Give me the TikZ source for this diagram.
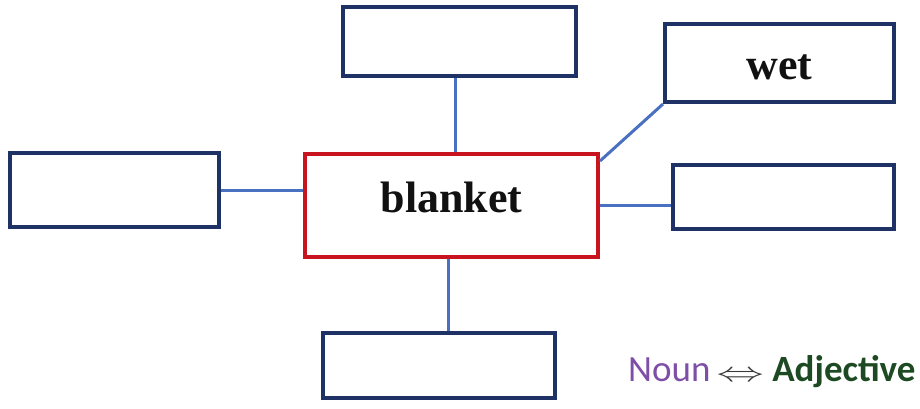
\documentclass[tikz,border=0pt]{standalone}
\usepackage{fontspec,xcolor,tikz}
\setmainfont{Liberation Serif}
\newfontfamily\calib{Carlito}
\definecolor{navy}{HTML}{1F3266}
\definecolor{link}{HTML}{4A70C2}
\definecolor{frame}{HTML}{C8141E}
\definecolor{ink}{HTML}{111111}
\definecolor{nounc}{HTML}{7E4FA6}
\definecolor{adjc}{HTML}{1D4A22}
\definecolor{arrc}{HTML}{3A3A3A}
\newcommand{\wordfont}{\fontsize{44}{48}\selectfont\bfseries}
\newcommand{\keyfont}{\fontsize{37}{40}\selectfont\calib}
\begin{document}
\begin{tikzpicture}[x=1pt,y=-1pt,
  wordbox/.style={draw=navy,line width=4pt,inner sep=0,fill=white,text=ink,font=\wordfont},
  hubbox/.style={draw=frame,line width=4pt,inner sep=0,fill=white,text=ink,font=\wordfont},
  spoke/.style={link,line width=3pt}]
\useasboundingbox (0,0) rectangle (920,409);
% centre word
\node[hubbox,minimum width=293,minimum height=103,text height=30pt,text depth=17pt] (blanket) at (451.5,205.5) {blanket};
% surrounding boxes
\node[wordbox,minimum width=233,minimum height=69] (top) at (459.5,41.5) {};
\node[wordbox,minimum width=229,minimum height=78,text height=34pt,text depth=0pt] (wet) at (779.5,63) {wet};
\node[wordbox,minimum width=209,minimum height=74] (left) at (114.5,190) {};
\node[wordbox,minimum width=221,minimum height=64] (right) at (783.5,197) {};
\node[wordbox,minimum width=232,minimum height=65] (bottom) at (439,365.5) {};
% spokes
\draw[spoke] ([xshift=3.5]blanket.north) -- ([xshift=3.5]blanket.north |- top.south);
\draw[spoke] ([yshift=-9]blanket.north east) -- (wet.south west);
\draw[spoke] (left.east) -- (left.east -| blanket.west);
\draw[spoke] (blanket.east) -- (blanket.east -| right.west);
\draw[spoke] ([xshift=-3.5]blanket.south) -- ([xshift=-3.5]blanket.south |- bottom.north);
% key
\node[inner sep=0,anchor=base west,font=\keyfont] (key) at (628,381)
  {\textcolor{nounc}{Noun}\,\textcolor{arrc}{\scalebox{1.9}[1.1]{$\Leftrightarrow$}}\ \textcolor{adjc}{\bfseries Adjective}};
\end{tikzpicture}
\end{document}
